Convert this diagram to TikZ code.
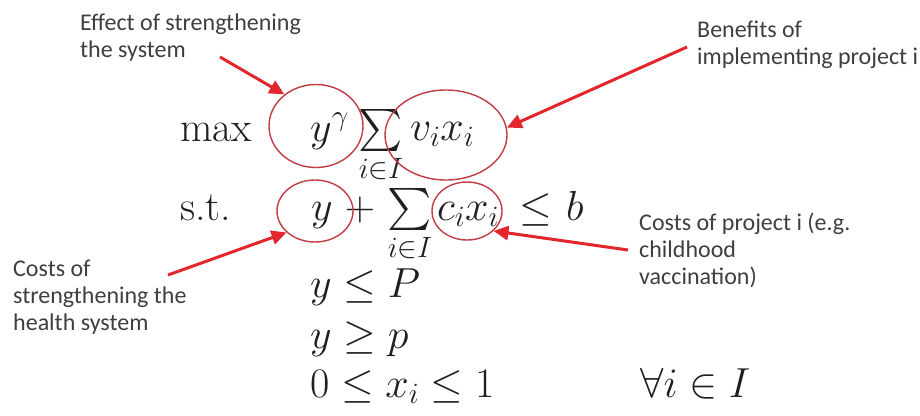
\RequirePackage{fix-cm}
\documentclass[tikz,border=0pt]{standalone}
\DeclareFontShape{OMX}{cmex}{m}{n}{<-> cmex10}{}
\usepackage{fontspec}
\newfontfamily\notefont{Carlito}
\usetikzlibrary{arrows.meta,shapes.geometric}
\definecolor{notered}{HTML}{E3262B}
\definecolor{ringred}{HTML}{C23A44}
\definecolor{notegray}{HTML}{3F3F3F}
\tikzset{
	formula/.style={inner sep=0pt, anchor=base west, text=black!88, font=\fontsize{42}{50}\selectfont},
	note/.style={inner sep=0pt, anchor=north west, align=left, text=notegray, font=\notefont\fontsize{24}{27}\selectfont},
	ring/.style={draw=ringred, line width=1.4pt, shape=ellipse, inner sep=0pt},
	pointer/.style={draw=notered, line width=3pt, -{Triangle[length=15pt,width=14pt]}}
}
\begin{document}
\begin{tikzpicture}[x=1pt, y=-1pt]
		\useasboundingbox (0, 0) rectangle (920, 415);
		% objective
		\node [formula] (max) at (180, 141) {$\max$};
		\node [formula] (ygamma) at (310, 141) {$y^{\gamma}$};
		\node [formula, anchor=base] (sum1) at (381, 141) {$\sum\limits_{i\in I}$};
		\node [formula] (vx) at (410, 140) {$v_i x_i$};
		% budget constraint
		\node [formula] (st) at (180, 220) {s.t.};
		\node [formula] (y1) at (311, 220) {$y$};
		\node [formula, anchor=base] (plus) at (360, 220) {$+$};
		\node [formula, anchor=base] (sum2) at (410, 220) {$\sum\limits_{i\in I}$};
		\node [formula] (cx) at (437, 220) {$c_i x_i$};
		\node [formula, anchor=base] (leq) at (536, 220) {$\leq$};
		\node [formula] (b) at (566, 220) {$b$};
		% bounds
		\node [formula] (upper) at (310, 297) {$y \leq P$};
		\node [formula] (lower) at (310, 348) {$y \geq p$};
		\node [formula] (bounds) at (310, 397) {$0 \leq x_i \leq 1$};
		\node [formula] (forall) at (640, 397) {$\forall i \in I$};
		% rings
		\node [ring, minimum width=94pt, minimum height=83pt] (ring1) at (316, 126) {};
		\node [ring, minimum width=122pt, minimum height=90pt] (ring2) at (446, 135) {};
		\node [ring, minimum width=76pt, minimum height=62pt] (ring3) at (315, 211) {};
		\node [ring, minimum width=70pt, minimum height=58pt] (ring4) at (467, 211) {};
		% notes
		\node [note] (effect) at (80, 14) {Effect of strengthening\\the system};
		\node [note] (benefit) at (697, 21) {Benefits of\\implementing project i};
		\node [note] (syscost) at (13, 260) {Costs of\\strengthening the\\health system};
		\node [note] (projcost) at (639, 213) {Costs of project i (e.g.\\childhood\\vaccination)};
		\coordinate (effect tail) at (220, 57);
		\coordinate (benefit tail) at (687, 47);
		\coordinate (syscost tail) at (168, 275);
		\coordinate (projcost tail) at (628, 250);
		\draw [pointer] (effect tail) -- (ring1.135);
		\draw [pointer] (benefit tail) -- (ring2.7);
		\draw [pointer] (syscost tail) -- (ring3.217);
		\draw [pointer] (projcost tail) -- (ring4.323);
	\end{tikzpicture}
\end{document}
